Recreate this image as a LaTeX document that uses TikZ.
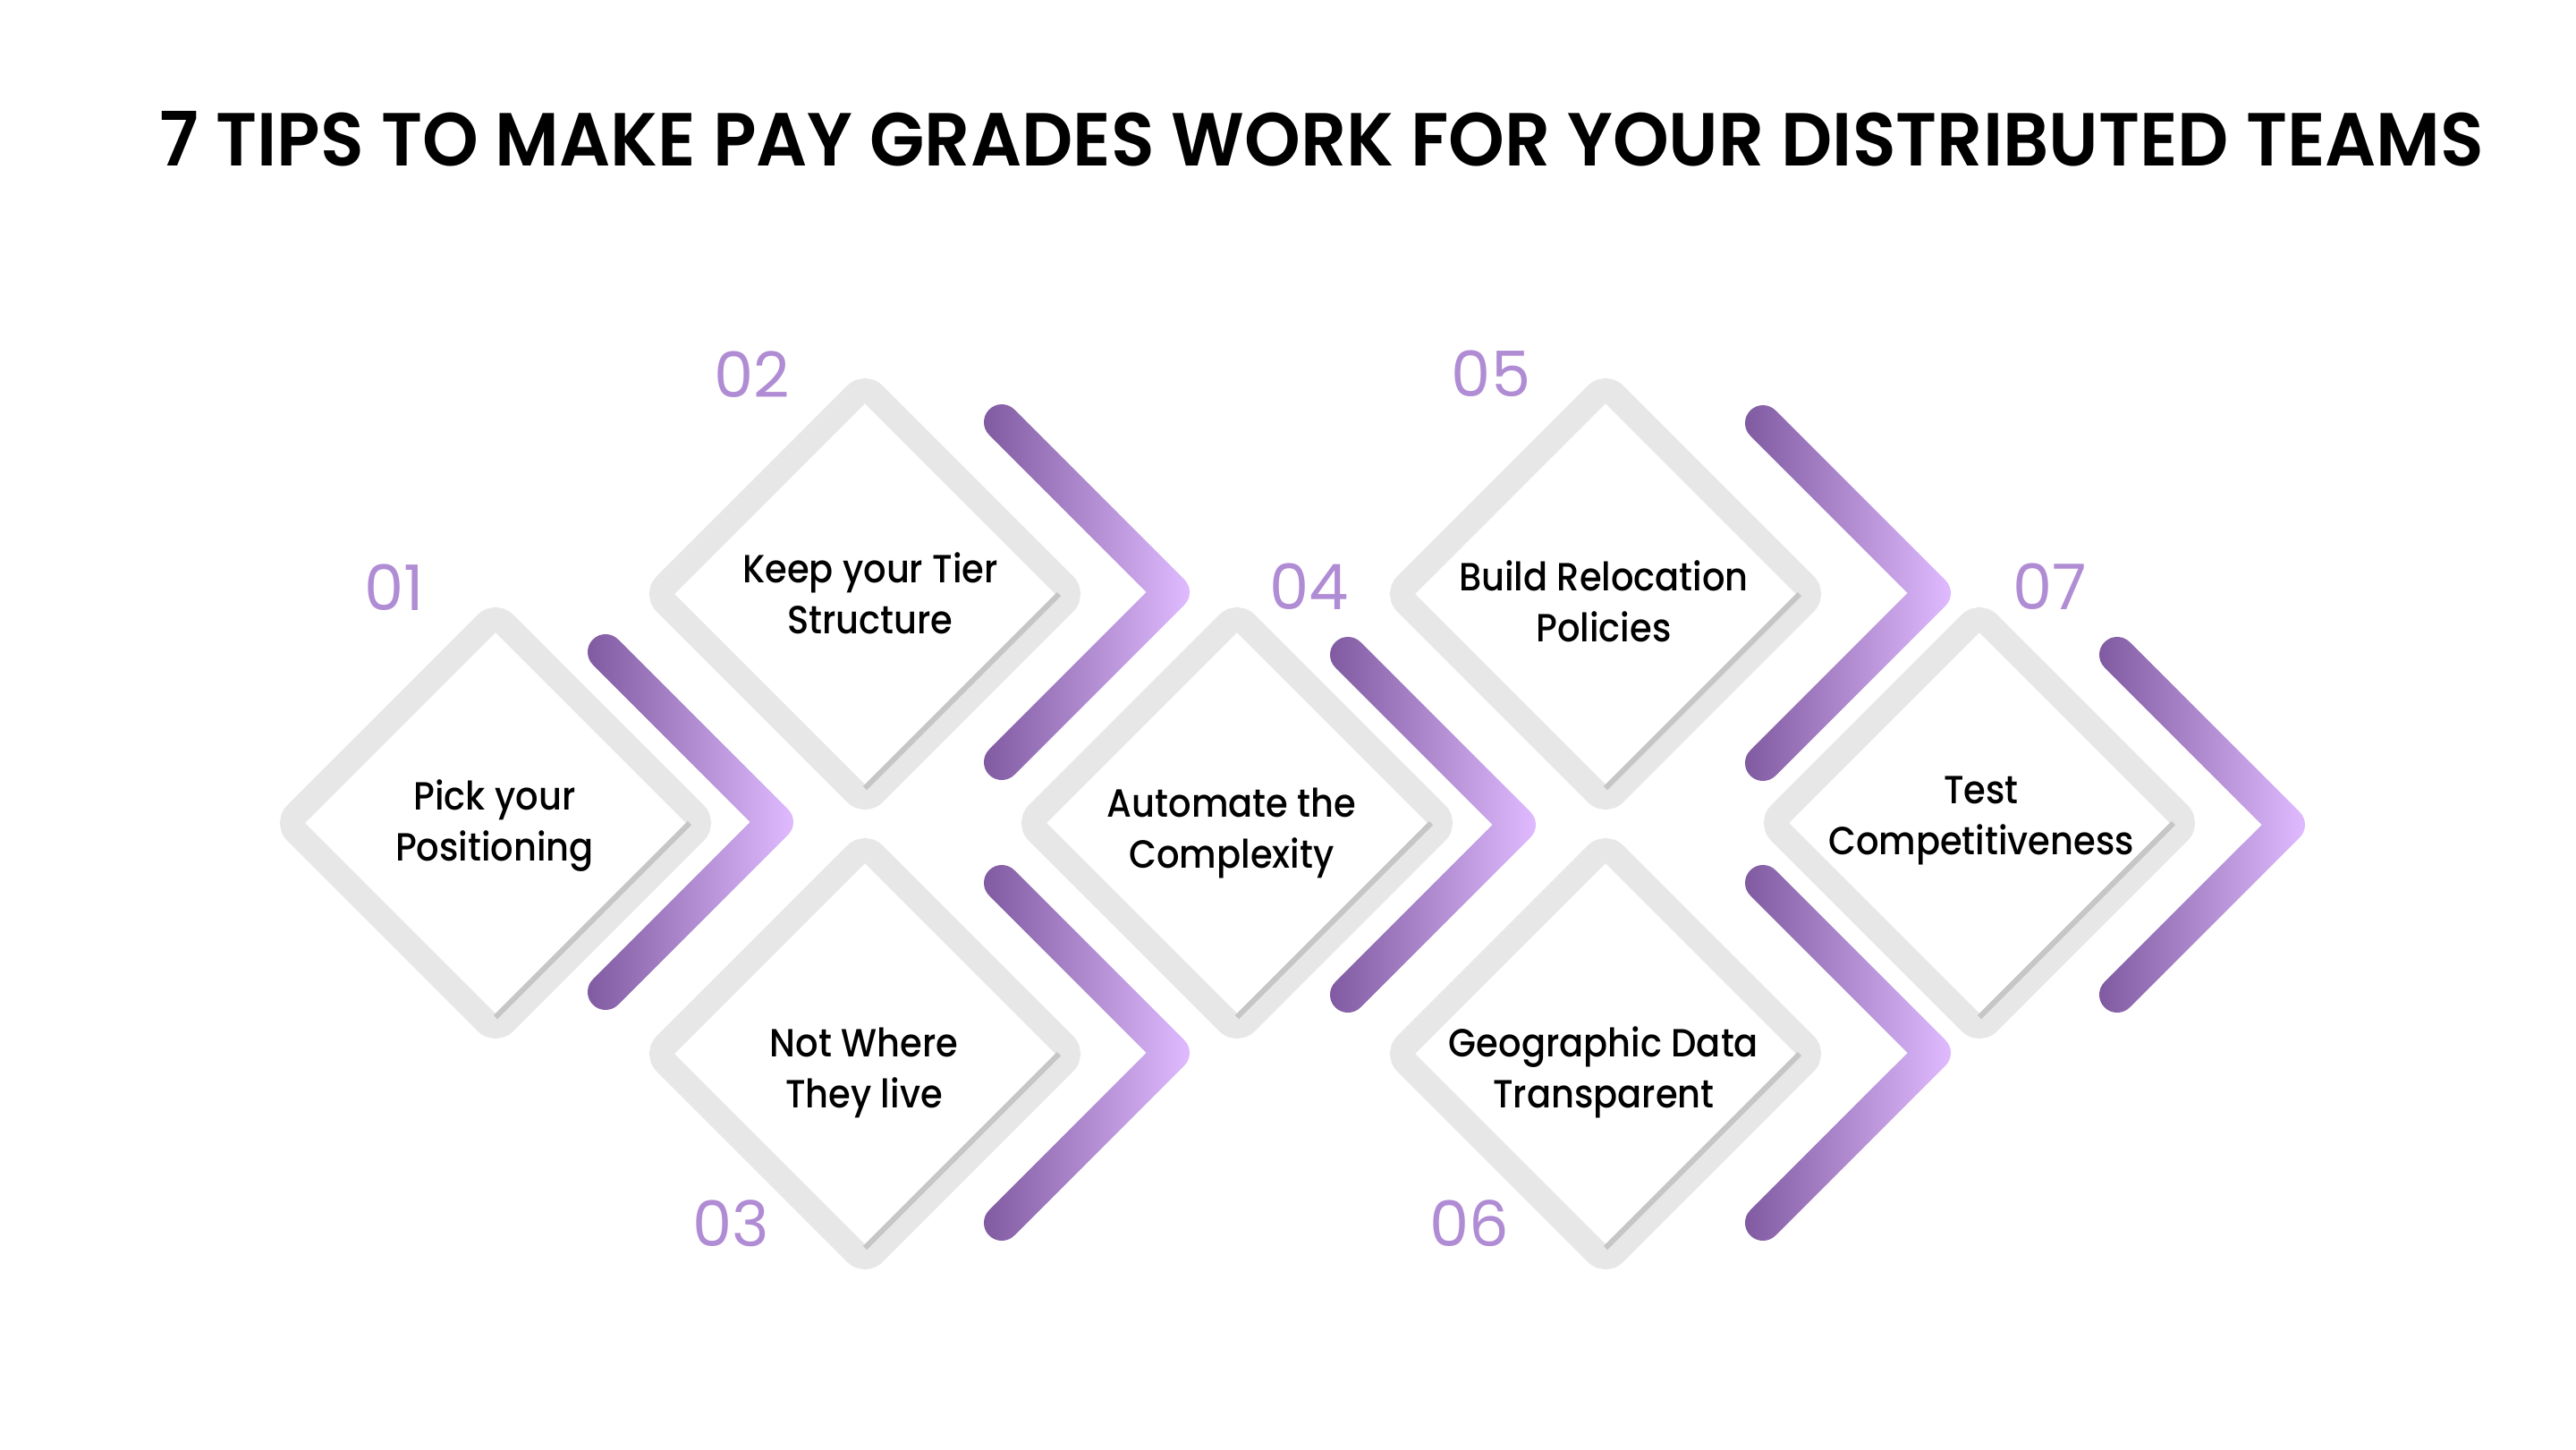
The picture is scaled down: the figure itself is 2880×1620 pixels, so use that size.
\documentclass[tikz,border=0pt]{standalone}
\usepackage{fontspec}
\setmainfont{Poppins}[UprightFont=* Medium, BoldFont=* SemiBold, FakeStretch=0.91]
\newfontfamily\numfont{Poppins}
\newfontfamily\titlefont{Poppins SemiBold}[FakeStretch=0.95]
\usepackage{xcolor}
\usetikzlibrary{calc}

\definecolor{bandgray}{HTML}{E7E7E7}
\definecolor{shadowgray}{HTML}{C6C6C6}
\definecolor{chevdark}{HTML}{7F5AA0}
\definecolor{chevlight}{HTML}{E0BBFF}
\definecolor{numpurple}{HTML}{B08CD4}

\begin{document}
\begin{tikzpicture}[x=0.01cm, y=0.01cm,
        band/.style={draw=bandgray, line width=0.28cm, rounded corners=0.14cm},
        shadowline/.style={draw=shadowgray, line width=0.06cm},
        chevron/.style={left color=chevdark, right color=chevlight, draw=none},
        tiptext/.style={align=center, inner sep=0pt, font=\fontsize{12.5}{16.2}\selectfont},
        tipnum/.style={inner sep=0pt, text=numpurple, font=\numfont\fontsize{20}{24}\selectfont}]

        \useasboundingbox (0,0) rectangle (2880,-1620);
        \fill[white] (0,0) rectangle (2880,-1620);

        % Title
        \node[inner sep=0pt, font=\titlefont\fontsize{23.9}{28}\selectfont] (title) at (1478,-155)
            {7 TIPS TO MAKE PAY GRADES WORK FOR YOUR DISTRIBUTED TEAMS};

        % Centres of the diamonds
        \coordinate (d1) at (554,-920);
        \coordinate (d2) at (967,-664);
        \coordinate (d3) at (967,-1178);
        \coordinate (d4) at (1383,-920);
        \coordinate (d5) at (1795,-664);
        \coordinate (d6) at (1795,-1178);
        \coordinate (d7) at (2213,-920);

        % Draw the diamonds and their inner shadow
        \foreach \d in {d1,d2,d3,d4,d5,d6,d7} {
            \draw[band, shift={(\d)}] (-116.4,116.4) -- (0,232.8) -- (232.8,0) -- (0,-232.8) -- (-232.8,0) -- cycle;
            \draw[shadowline, shift={(\d)}] (217,0) -- (0,-217);
        }

        % Draw the chevrons (tip positions)
        \foreach \x/\y in {867/919, 1310/662, 1310/1177, 1697/922, 2161/663, 2161/1177, 2557/922} {
            \shade[chevron, shift={(\x,-\y)}] (-175.86,204.14) -- (14.14,14.14)
                arc[start angle=45, end angle=-45, radius=0.2cm] -- (-175.86,-204.14)
                arc[start angle=-45, end angle=-225, radius=0.2cm] -- (-28.28,0) -- (-204.14,175.86)
                arc[start angle=225, end angle=45, radius=0.2cm] -- cycle;
        }

        % Texts of the tips
        \node[tiptext] (t1) at (553,-923) {Pick your\\Positioning};
        \node[tiptext] (t2) at (973,-663) {Keep your Tier\\Structure};
        \node[tiptext] (t3) at (966,-1199) {Not Where\\They live};
        \node[tiptext] (t4) at (1377,-931) {Automate the\\Complexity};
        \node[tiptext] (t5) at (1793,-672) {Build Relocation\\Policies};
        \node[tiptext] (t6) at (1793,-1199) {Geographic Data\\Transparent};
        \node[tiptext] (t7) at (2215,-917) {Test\\Competitiveness};

        % Numbers
        \node[tipnum] (n1) at (441,-657) {01};
        \node[tipnum] (n2) at (841,-419) {02};
        \node[tipnum] (n3) at (817,-1368) {03};
        \node[tipnum] (n4) at (1464,-656) {04};
        \node[tipnum] (n5) at (1667,-418) {05};
        \node[tipnum] (n6) at (1643,-1368) {06};
        \node[tipnum] (n7) at (2292,-656) {07};

    \end{tikzpicture}
\end{document}
